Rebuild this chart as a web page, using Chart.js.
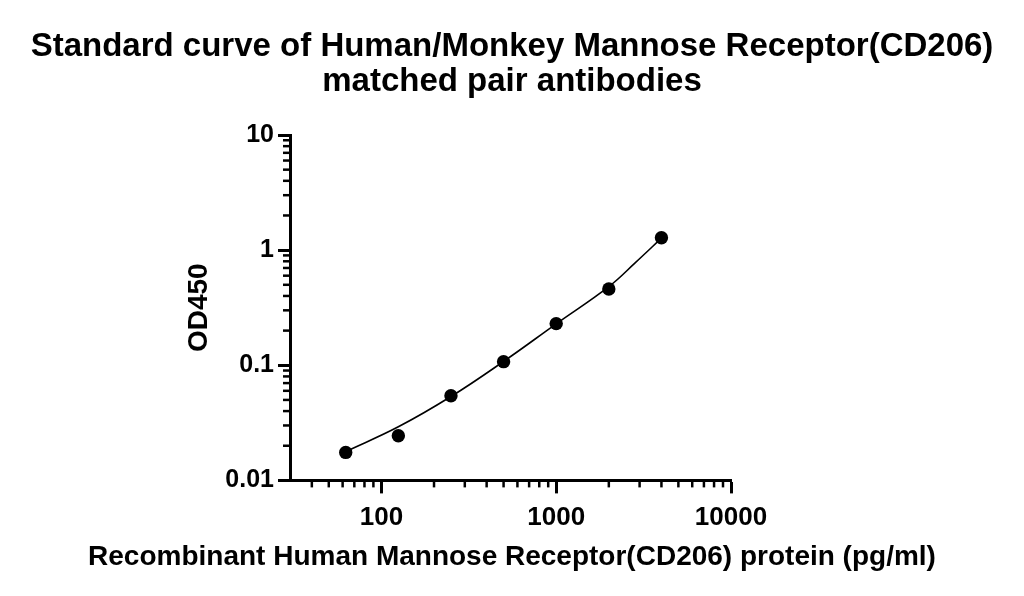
<!DOCTYPE html>
<html><head><meta charset="utf-8">
<script src="https://cdn.jsdelivr.net/npm/chart.js@4.4.1/dist/chart.umd.min.js"></script>
<style>html,body{margin:0;padding:0;background:#fff;overflow:hidden;}</style>
</head><body>
<canvas id="c" width="1024" height="596" style="width:1024px;height:596px;display:block"></canvas>
<script>
// Measured standards (pg/ml) and OD450
const concentrations = [62.5, 125, 250, 500, 1000, 2000, 4000];
const od450 = [0.0175, 0.0244, 0.0543, 0.1075, 0.230, 0.459, 1.28];
// Fitted curve
const fitX = [62.5, 125, 250, 500, 1000, 2000, 2828, 4000];
const fitY = [0.0178, 0.0292, 0.0535, 0.108, 0.229, 0.482, 0.775, 1.27];
// Axis ticks
const xMajor = [100, 1000, 10000];
const xTickLabels = ['100', '1000', '10000'];
const xMinor = [40,50,60,70,80,90,200,300,400,500,600,700,800,900,2000,3000,4000,5000,6000,7000,8000,9000];
const yMajor = [0.01, 0.1, 1, 10];
const yTickLabels = ['0.01', '0.1', '1', '10'];
const yMinor = [0.02,0.03,0.04,0.05,0.06,0.07,0.08,0.09,0.2,0.3,0.4,0.5,0.6,0.7,0.8,0.9,2,3,4,5,6,7,8,9];

const FONT = "'Liberation Sans', Arial, sans-serif";

const minorTicks = {
  id: 'minorTicks',
  afterDraw(chart) {
    const {ctx, chartArea, scales: {x, y}} = chart;
    ctx.save();
    ctx.strokeStyle = '#000';
    ctx.lineWidth = 2.5;
    xMinor.forEach(v => {
      const px = x.getPixelForValue(v);
      ctx.beginPath(); ctx.moveTo(px, chartArea.bottom); ctx.lineTo(px, chartArea.bottom + 7); ctx.stroke();
    });
    yMinor.forEach(v => {
      const py = y.getPixelForValue(v);
      ctx.beginPath(); ctx.moveTo(chartArea.left, py); ctx.lineTo(chartArea.left - 7, py); ctx.stroke();
    });
    ctx.restore();
  }
};

new Chart(document.getElementById('c'), {
  type: 'scatter',
  data: {
    datasets: [
      {
        data: concentrations.map((c, i) => ({x: c, y: od450[i]})),
        showLine: false,
        pointRadius: 6.7,
        pointBackgroundColor: '#000',
        pointBorderWidth: 0
      },
      {
        data: fitX.map((c, i) => ({x: c, y: fitY[i]})),
        showLine: true,
        pointRadius: 0,
        borderColor: '#000',
        borderWidth: 1.6,
        tension: 0.4,
        fill: false
      }
    ]
  },
  options: {
    responsive: false,
    animation: false,
    devicePixelRatio: 1,
    layout: {padding: 0},
    plugins: {
      legend: {display: false},
      tooltip: {enabled: false},
      title: {
        display: true,
        text: ['Standard curve of Human/Monkey Mannose Receptor(CD206)', 'matched pair antibodies'],
        color: '#000',
        font: {family: FONT, size: 33, weight: 'bold', lineHeight: '35px'},
        padding: {top: 29, bottom: 36}
      },
      subtitle: {
        display: true,
        position: 'bottom',
        text: 'Recombinant Human Mannose Receptor(CD206) protein (pg/ml)',
        color: '#000',
        font: {family: FONT, size: 28, weight: 'bold', lineHeight: 1.2},
        padding: {top: 7, bottom: 22}
      }
    },
    scales: {
      x: {
        type: 'logarithmic',
        min: 30, max: 10000,
        afterBuildTicks: s => { s.ticks = xMajor.map(v => ({value: v, major: true})); },
        afterFit: s => { s.height = 53; },
        ticks: {
          autoSkip: false, maxRotation: 0, minRotation: 0,
          callback: (v, i) => xTickLabels[i],
          color: '#000', padding: 9,
          font: {family: FONT, size: 26, weight: 'bold'}
        },
        grid: {display: true, drawOnChartArea: false, drawTicks: true, tickLength: 13, tickWidth: 3, tickColor: '#000'},
        border: {display: true, color: '#000', width: 3},
        title: {display: false}
      },
      y: {
        type: 'logarithmic',
        position: 'left',
        min: 0.01, max: 10,
        afterBuildTicks: s => { s.ticks = yMajor.map(v => ({value: v, major: true})); },
        afterFit: s => { s.width = 290; },
        ticks: {
          autoSkip: false,
          callback: (v, i) => yTickLabels[i],
          color: '#000', padding: 4,
          font: {family: FONT, size: 25, weight: 'bold'}
        },
        grid: {display: true, drawOnChartArea: false, drawTicks: true, tickLength: 12, tickWidth: 3, tickColor: '#000'},
        border: {display: true, color: '#000', width: 3},
        title: {
          display: true,
          text: 'OD450',
          color: '#000',
          font: {family: FONT, size: 28, weight: 'bold'},
          padding: {top: 182, bottom: 0}
        }
      },
      yRight: {
        type: 'linear',
        position: 'right',
        min: 0, max: 1,
        display: true,
        afterFit: s => { s.width = 293; },
        ticks: {display: false},
        grid: {display: false},
        border: {display: false}
      }
    }
  },
  plugins: [minorTicks]
});
</script>
</body></html>
